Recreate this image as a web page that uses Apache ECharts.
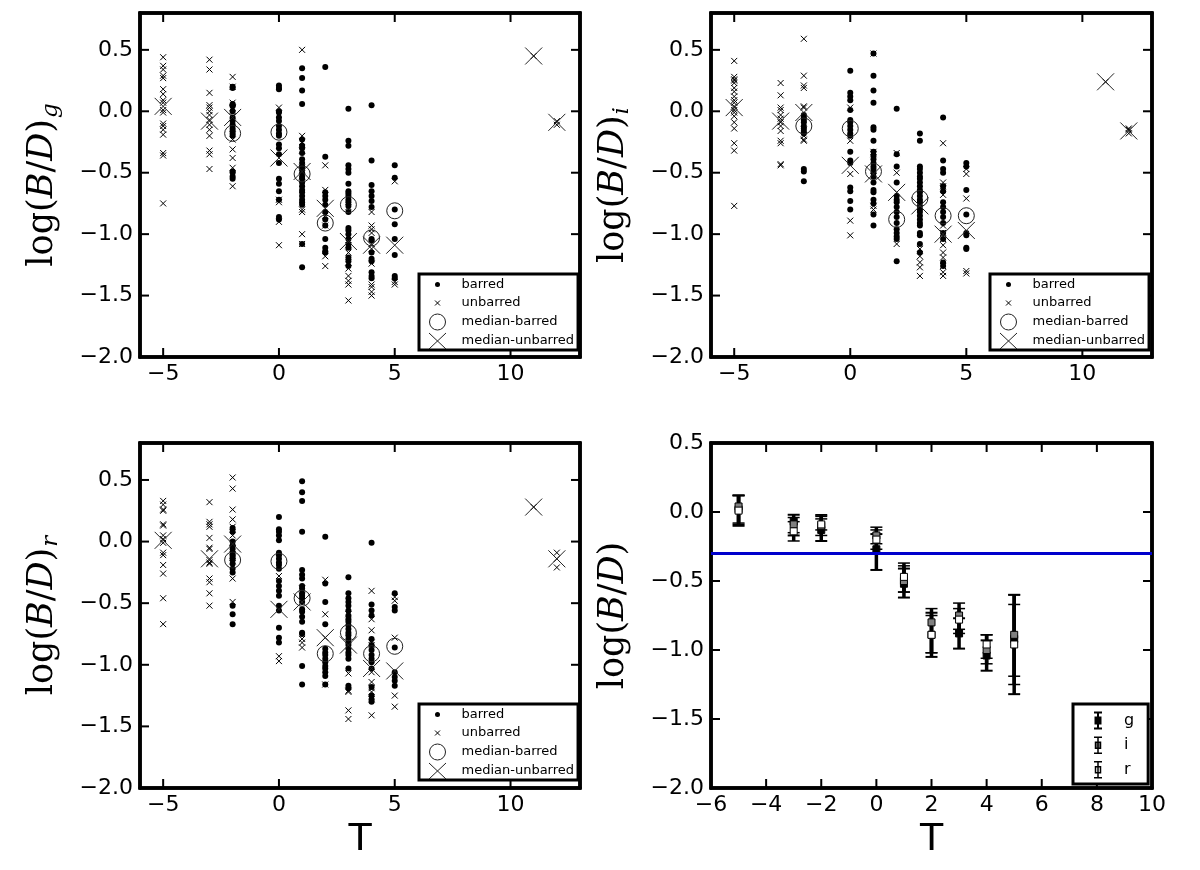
<!DOCTYPE html>
<html><head><meta charset="utf-8">
<script src="https://cdn.jsdelivr.net/npm/echarts@6/dist/echarts.min.js"></script>
<style>html,body{margin:0;padding:0;background:#fff}#c{width:1200px;height:870px}</style>
</head><body><div id="c"></div>
<script>
// ---------- DATA ----------
const T_TYPES = [-5, -3, -2, 0, 1, 2, 3, 4, 5, 11, 12];
const X_TICKS_SCATTER = [-5, 0, 5, 10];
const Y_TICKS_SCATTER = [-2.0, -1.5, -1.0, -0.5, 0.0, 0.5];
const X_TICKS_ERR = [-6, -4, -2, 0, 2, 4, 6, 8, 10];
const Y_TICKS_ERR = [-2.0, -1.5, -1.0, -0.5, 0.0, 0.5];

const gBarred = [[], [],
  [0.20,0.19,0.06,0.05,0.04,0.0,-0.05,-0.08,-0.11,-0.14,-0.16,-0.18,-0.20,-0.49,-0.50,-0.53,-0.55],
  [0.21,0.19,0.18,0.0,-0.01,-0.05,-0.08,-0.12,-0.15,-0.18,-0.20,-0.27,-0.30,-0.35,-0.42,-0.55,-0.59,-0.65,-0.72,-0.86,-0.88],
  [0.35,0.27,0.17,0.06,-0.23,-0.28,-0.30,-0.34,-0.39,-0.42,-0.45,-0.47,-0.50,-0.53,-0.55,-0.58,-0.61,-0.64,-0.66,-0.69,-0.72,-0.74,-0.76,-1.08,-1.27],
  [0.36,-0.37,-0.66,-0.69,-0.72,-0.76,-0.82,-0.88,-0.93,-1.04,-1.11,-1.14,-1.15],
  [0.02,-0.24,-0.28,-0.44,-0.47,-0.50,-0.59,-0.65,-0.67,-0.69,-0.72,-0.74,-0.77,-0.82,-0.95,-0.97,-1.00,-1.04,-1.08,-1.11,-1.19,-1.22,-1.26],
  [0.05,-0.40,-0.60,-0.65,-0.69,-0.73,-0.78,-1.04,-1.05,-1.15,-1.20,-1.22,-1.31,-1.34,-1.36],
  [-0.44,-0.54,-0.80,-0.92,-1.04,-1.17,-1.34,-1.36],
  [], []];
const gUnbarred = [
  [0.44,0.37,0.34,0.29,0.27,0.18,0.14,0.09,0.07,0.01,-0.01,-0.10,-0.12,-0.15,-0.19,-0.34,-0.36,-0.75],
  [0.42,0.34,0.15,0.05,0.03,0.0,-0.03,-0.07,-0.11,-0.15,-0.20,-0.32,-0.35,-0.47],
  [0.28,0.20,0.07,0.03,-0.04,-0.14,-0.23,-0.31,-0.38,-0.46,-0.61],
  [0.03,-0.72,-0.74,-0.90,-1.09],
  [0.50,-0.20,-0.25,-0.32,-0.46,-0.53,-0.80,-0.82,-1.00,-1.08],
  [-0.44,-0.64,-0.85,-0.93,-1.18,-1.26],
  [-0.78,-1.09,-1.15,-1.23,-1.28,-1.34,-1.38,-1.41,-1.54],
  [-0.82,-0.93,-0.96,-0.99,-1.08,-1.12,-1.24,-1.41,-1.43,-1.47,-1.50],
  [-0.57,-1.39,-1.41],
  [0.45],
  [-0.08,-0.11]];
const gMedBarred   = [null, null, -0.18, -0.17, -0.51, -0.91, -0.76, -1.03, -0.81, null, null];
const gMedUnbarred = [0.04, -0.08, -0.05, -0.38, -0.49, -0.79, -1.06, -1.09, -1.09, 0.45, -0.09];

const iBarred = [[], [],
  [-0.03,-0.05,-0.07,-0.09,-0.12,-0.14,-0.16,-0.18,-0.47,-0.49,-0.57],
  [0.33,0.15,0.12,0.09,0.01,-0.07,-0.09,-0.12,-0.15,-0.18,-0.20,-0.33,-0.40,-0.42,-0.62,-0.65,-0.73,-0.80],
  [0.47,0.29,0.17,0.07,-0.13,-0.15,-0.24,-0.33,-0.36,-0.39,-0.42,-0.45,-0.47,-0.50,-0.53,-0.58,-0.64,-0.66,-0.72,-0.75,-0.84,-0.93],
  [0.02,-0.35,-0.45,-0.58,-0.69,-0.72,-0.74,-0.78,-0.82,-0.86,-0.91,-0.96,-0.99,-1.02,-1.04,-1.22],
  [-0.18,-0.24,-0.45,-0.47,-0.50,-0.53,-0.55,-0.58,-0.61,-0.64,-0.66,-0.69,-0.72,-0.74,-0.77,-0.80,-0.82,-0.85,-0.88,-0.91,-0.93,-0.99,-1.01,-1.08,-1.15],
  [-0.05,-0.40,-0.47,-0.50,-0.61,-0.65,-0.74,-0.78,-0.82,-0.86,-0.91,-0.99,-1.04,-1.23,-1.26],
  [-0.42,-0.45,-0.64,-0.84,-0.99,-1.01,-1.11,-1.12],
  [], []];
const iUnbarred = [
  [0.41,0.28,0.26,0.25,0.23,0.19,0.16,0.12,0.09,0.07,0.04,0.01,-0.01,-0.04,-0.09,-0.14,-0.26,-0.32,-0.77],
  [0.23,0.13,0.03,0.01,-0.03,-0.06,-0.09,-0.12,-0.16,-0.24,-0.26,-0.43,-0.44],
  [0.59,0.29,0.21,0.19,0.04,0.03,-0.15,-0.20,-0.23,-0.24],
  [0.03,-0.24,-0.51,-0.89,-1.01],
  [0.47,-0.33,-0.35,-0.53,-0.77,-0.80],
  [-0.34,-0.50,-0.66,-1.08],
  [-1.12,-1.18,-1.23,-1.27,-1.34],
  [-0.26,-0.58,-0.61,-0.68,-0.93,-0.99,-1.04,-1.09,-1.15,-1.19,-1.26,-1.31,-1.34],
  [-0.47,-0.51,-0.71,-1.30,-1.32],
  [0.24],
  [-0.14,-0.15,-0.18]];
const iMedBarred   = [null, null, -0.12, -0.14, -0.49, -0.88, -0.71, -0.85, -0.85, null, null];
const iMedUnbarred = [0.03, -0.08, -0.01, -0.44, -0.51, -0.66, -0.77, -1.00, -0.97, 0.24, -0.16];

const rBarred = [[], [],
  [0.11,0.08,0.0,-0.03,-0.06,-0.09,-0.11,-0.13,-0.15,-0.18,-0.22,-0.25,-0.52,-0.59,-0.67],
  [0.20,0.10,0.08,0.05,0.01,-0.09,-0.11,-0.14,-0.17,-0.19,-0.22,-0.32,-0.36,-0.40,-0.44,-0.52,-0.56,-0.70,-0.78,-0.82],
  [0.49,0.40,0.33,0.08,-0.23,-0.27,-0.30,-0.36,-0.38,-0.42,-0.44,-0.46,-0.49,-0.55,-0.57,-0.61,-0.65,-0.74,-0.75,-1.01,-1.16],
  [0.04,-0.34,-0.49,-0.67,-0.87,-0.90,-0.92,-0.95,-0.98,-1.01,-1.03,-1.06,-1.09,-1.16],
  [-0.29,-0.42,-0.46,-0.49,-0.52,-0.56,-0.60,-0.63,-0.65,-0.68,-0.71,-0.74,-0.76,-0.79,-0.82,-0.84,-0.87,-0.90,-0.92,-0.95,-1.03,-1.17,-1.19],
  [-0.01,-0.51,-0.56,-0.60,-0.79,-0.84,-0.88,-0.92,-0.95,-0.98,-1.03,-1.18,-1.25,-1.28,-1.30],
  [-0.42,-0.53,-0.56,-0.86,-1.06,-1.10,-1.13,-1.17],
  [], []];
const rUnbarred = [
  [0.33,0.30,0.26,0.25,0.14,0.13,0.05,0.02,-0.01,-0.09,-0.11,-0.19,-0.26,-0.46,-0.67],
  [0.32,0.16,0.14,0.12,0.03,-0.05,-0.06,-0.15,-0.17,-0.18,-0.30,-0.33,-0.42,-0.52],
  [0.52,0.43,0.26,0.18,0.12,0.05,-0.01,-0.06,-0.13,-0.16,-0.30,-0.49],
  [-0.28,-0.93,-0.97],
  [-0.38,-0.44,-0.79,-0.82,-0.86],
  [-0.31,-0.59,-0.78,-1.16],
  [-0.59,-1.07,-1.21,-1.22,-1.37,-1.44],
  [-0.40,-0.63,-0.72,-0.82,-0.84,-1.06,-1.14,-1.19,-1.22,-1.28,-1.41],
  [-0.45,-0.48,-0.78,-1.25,-1.34],
  [0.28],
  [-0.09,-0.14,-0.21]];
const rMedBarred   = [null, null, -0.15, -0.16, -0.46, -0.91, -0.74, -0.91, -0.85, null, null];
const rMedUnbarred = [0.01, -0.14, -0.02, -0.55, -0.49, -0.78, -0.84, -1.03, -1.05, 0.28, -0.14];

const T_ERR = [-5, -3, -2, 0, 1, 2, 3, 4, 5];
const gMean = [0.02, -0.07, -0.13, -0.27, -0.52, -0.89, -0.88, -1.04, -0.92];
const gLo   = [-0.10, -0.17, -0.21, -0.42, -0.62, -1.05, -0.99, -1.15, -1.32];
const gHi   = [0.12, -0.02, -0.03, -0.16, -0.41, -0.73, -0.77, -0.93, -0.60];
const iMean = [0.04, -0.09, -0.10, -0.17, -0.50, -0.80, -0.75, -1.00, -0.89];
const iLo   = [-0.09, -0.15, -0.17, -0.23, -0.58, -1.02, -0.85, -1.10, -1.19];
const iHi   = [0.12, -0.04, -0.02, -0.11, -0.39, -0.70, -0.66, -0.89, -0.60];
const rMean = [0.01, -0.14, -0.09, -0.20, -0.47, -0.89, -0.78, -0.96, -0.96];
const rLo   = [-0.08, -0.21, -0.13, -0.27, -0.58, -1.02, -0.88, -1.06, -1.25];
const rHi   = [0.12, -0.07, -0.05, -0.13, -0.37, -0.75, -0.70, -0.89, -0.67];
const REF_LINE = -0.30;

// ---------- BUILD ----------
const FONT = 'DejaVu Sans';
const SERIF = 'DejaVu Serif';
const XPATH = 'path://M0,0L10,10M10,0L0,10';
const TICK_LEN = 9;
const minus = s => s.replace('-', '\u2212');
const fmtY = v => minus(Number(v).toFixed(1));
const fmtX = v => minus(String(Math.round(v)));

const GRIDS = [
  {left: 140, top: 13, width: 440, height: 344},
  {left: 711, top: 13, width: 441, height: 344},
  {left: 140, top: 443, width: 440, height: 345},
  {left: 711, top: 443, width: 441, height: 345}
];

function flatten(cols) {
  const out = [];
  cols.forEach((vals, j) => vals.forEach(v => out.push([T_TYPES[j], v])));
  return out;
}
function medPts(arr) {
  const out = [];
  arr.forEach((v, j) => { if (v !== null) out.push([T_TYPES[j], v]); });
  return out;
}
function yName(sub) {
  return '{n|log(}{i|B}{n|/}{i|D}{n|)}' + (sub ? '{s|' + sub + '}' : '');
}
const nameRich = {
  n: {fontFamily: SERIF, fontSize: 35, color: '#000', lineHeight: 42},
  i: {fontFamily: SERIF, fontSize: 35, fontStyle: 'italic', color: '#000', lineHeight: 42},
  s: {fontFamily: SERIF, fontSize: 23, fontStyle: 'italic', color: '#000', padding: [17, 0, 0, 1], lineHeight: 25}
};

const xAxes = [], yAxes = [], series = [], legends = [];
const frameLine = {show: true, onZero: false, lineStyle: {color: '#000', width: 3.5}};
const tickLine = (x1, y1, x2, y2) => ({type: 'line', shape: {x1: x1, y1: y1, x2: x2, y2: y2},
  style: {stroke: '#000', lineWidth: 2}});

function addAxes(k, xmin, xmax, xt, ymin, ymax, yt, yLabel, xLabel) {
  xAxes.push({type: 'value', gridIndex: k, position: 'bottom', min: xmin, max: xmax,
    axisLine: frameLine, splitLine: {show: false}, axisTick: {show: false},
    axisLabel: {customValues: xt, formatter: fmtX, fontFamily: FONT, fontSize: 22, color: '#000', margin: 6},
    name: xLabel || '', nameLocation: 'middle', nameGap: 33,
    nameTextStyle: {fontFamily: FONT, fontSize: 38, color: '#000'}});
  xAxes.push({type: 'value', gridIndex: k, position: 'top', min: xmin, max: xmax,
    axisLine: frameLine, splitLine: {show: false}, axisTick: {show: false}, axisLabel: {show: false}});
  yAxes.push({type: 'value', gridIndex: k, position: 'left', min: ymin, max: ymax,
    axisLine: frameLine, splitLine: {show: false}, axisTick: {show: false},
    axisLabel: {customValues: yt, formatter: fmtY, fontFamily: FONT, fontSize: 22, color: '#000', margin: 7},
    name: yLabel, nameLocation: 'middle', nameGap: 76, nameRotate: 90,
    nameTextStyle: {rich: nameRich}});
  yAxes.push({type: 'value', gridIndex: k, position: 'right', min: ymin, max: ymax,
    axisLine: frameLine, splitLine: {show: false}, axisTick: {show: false}, axisLabel: {show: false}});
  // inward tick marks on all four sides, placed through the axes' own scales
  series.push({type: 'custom', xAxisIndex: 2 * k, yAxisIndex: 2 * k, silent: true, z: 10,
    data: xt.map(v => [v, (ymin + ymax) / 2]), encode: {x: 0, y: 1},
    renderItem: (params, api) => {
      const v = api.value(0);
      const b = api.coord([v, ymin]);
      const t = api.coord([v, ymax]);
      return {type: 'group', children: [
        tickLine(b[0], b[1], b[0], b[1] - TICK_LEN),
        tickLine(t[0], t[1], t[0], t[1] + TICK_LEN)]};
    }});
  series.push({type: 'custom', xAxisIndex: 2 * k, yAxisIndex: 2 * k, silent: true, z: 10,
    data: yt.map(v => [(xmin + xmax) / 2, v]), encode: {x: 0, y: 1},
    renderItem: (params, api) => {
      const v = api.value(1);
      const l = api.coord([xmin, v]);
      const r = api.coord([xmax, v]);
      return {type: 'group', children: [
        tickLine(l[0], l[1], l[0] + TICK_LEN, l[1]),
        tickLine(r[0], r[1], r[0] - TICK_LEN, r[1])]};
    }});
}

function scatterPanel(k, barred, unbarred, medB, medU, sub, xLabel) {
  addAxes(k, -6, 13, X_TICKS_SCATTER, -2.0, 0.8, Y_TICKS_SCATTER, yName(sub), xLabel);
  const ax = {xAxisIndex: 2 * k, yAxisIndex: 2 * k, silent: true};
  series.push(Object.assign({type: 'scatter', name: 'barred', data: flatten(barred),
    symbol: 'circle', symbolSize: 6, itemStyle: {color: '#000', opacity: 1}, z: 2}, ax));
  series.push(Object.assign({type: 'scatter', name: 'unbarred', data: flatten(unbarred),
    symbol: XPATH, symbolSize: 6, itemStyle: {color: 'transparent', borderColor: '#000', borderWidth: 1, opacity: 1}, z: 2}, ax));
  series.push(Object.assign({type: 'scatter', name: 'median-barred', data: medPts(medB),
    symbol: 'circle', symbolSize: 16, itemStyle: {color: 'transparent', borderColor: '#222', borderWidth: 1, opacity: 1}, z: 3}, ax));
  series.push(Object.assign({type: 'scatter', name: 'median-unbarred', data: medPts(medU),
    symbol: XPATH, symbolSize: 17, itemStyle: {color: 'transparent', borderColor: '#222', borderWidth: 1, opacity: 1}, z: 3}, ax));
  const g = GRIDS[k];
  legends.push({
    left: g.left + 279, top: g.top + 261, orient: 'vertical', selectedMode: false,
    padding: [2, 4, 0, 6], itemGap: 1, itemWidth: 24, itemHeight: 17,
    borderColor: '#000', borderWidth: 3, backgroundColor: '#fff', z: 12,
    textStyle: {fontFamily: FONT, fontSize: 13, color: '#000', padding: [0, 0, 0, 7]},
    data: [
      {name: 'barred', icon: 'path://M0,0M24,17M9.5,8.5A2.5,2.5,0,1,1,14.5,8.5A2.5,2.5,0,1,1,9.5,8.5Z',
        itemStyle: {color: '#000', borderWidth: 0, opacity: 1}},
      {name: 'unbarred', icon: 'path://M0,0M24,17M9.5,6L14.5,11M14.5,6L9.5,11',
        itemStyle: {color: 'transparent', borderColor: '#000', borderWidth: 1, opacity: 1}},
      {name: 'median-barred', icon: 'path://M0,0M24,17M4,8.5A8,8,0,1,1,20,8.5A8,8,0,1,1,4,8.5Z',
        itemStyle: {color: 'transparent', borderColor: '#222', borderWidth: 1, opacity: 1}},
      {name: 'median-unbarred', icon: 'path://M0,0M24,17M3.5,0.5L20.5,16.5M20.5,0.5L3.5,16.5',
        itemStyle: {color: 'transparent', borderColor: '#222', borderWidth: 1, opacity: 1}}
    ]
  });
}

scatterPanel(0, gBarred, gUnbarred, gMedBarred, gMedUnbarred, 'g', '');
scatterPanel(1, iBarred, iUnbarred, iMedBarred, iMedUnbarred, 'i', '');
scatterPanel(2, rBarred, rUnbarred, rMedBarred, rMedUnbarred, 'r', 'T');

addAxes(3, -6, 10, X_TICKS_ERR, -2.0, 0.5, Y_TICKS_ERR, yName(''), 'T');
function errBand(name, mean, lo, hi, fill, capW) {
  series.push({type: 'custom', xAxisIndex: 6, yAxisIndex: 6, silent: true, z: 2,
    data: T_ERR.map((t, j) => [t, lo[j], hi[j]]),
    encode: {x: 0, y: [1, 2]},
    renderItem: (params, api) => {
      const x = api.value(0);
      const top = api.coord([x, api.value(2)]);
      const bot = api.coord([x, api.value(1)]);
      const hw = 6;
      return {type: 'group', children: [
        {type: 'line', shape: {x1: top[0], y1: top[1], x2: bot[0], y2: bot[1]}, style: {stroke: '#000', lineWidth: 3.5}},
        {type: 'line', shape: {x1: top[0] - hw, y1: top[1], x2: top[0] + hw, y2: top[1]}, style: {stroke: '#000', lineWidth: capW}},
        {type: 'line', shape: {x1: bot[0] - hw, y1: bot[1], x2: bot[0] + hw, y2: bot[1]}, style: {stroke: '#000', lineWidth: capW}}
      ]};
    }});
  series.push({type: 'scatter', name: name, xAxisIndex: 6, yAxisIndex: 6, silent: true, z: 2,
    data: T_ERR.map((t, j) => [t, mean[j]]),
    symbol: 'rect', symbolSize: 7, itemStyle: {color: fill, borderColor: '#000', borderWidth: 1, opacity: 1}});
}
errBand('g', gMean, gLo, gHi, '#000', 2);
errBand('i', iMean, iLo, iHi, '#808080', 1.5);
errBand('r', rMean, rLo, rHi, '#fff', 1.5);
series.push({type: 'scatter', xAxisIndex: 6, yAxisIndex: 6, data: [], silent: true, z: 5,
  markLine: {silent: true, symbol: ['none', 'none'], label: {show: false}, animation: false,
    lineStyle: {color: '#0000cc', width: 3, type: 'solid', opacity: 1},
    data: [{yAxis: REF_LINE}]}});
legends.push({
  left: 1073, top: 704, orient: 'vertical', selectedMode: false,
  padding: [7, 14, 5, 16], itemGap: 6, itemWidth: 16, itemHeight: 17,
  borderColor: '#000', borderWidth: 3, backgroundColor: '#fff', z: 12,
  textStyle: {fontFamily: FONT, fontSize: 16, color: '#000', padding: [0, 0, 0, 13]},
  data: [
    {name: 'g', icon: 'path://M0,0M16,17M8,0.5L8,16.5M4,0.5L12,0.5M4,16.5L12,16.5M5.5,5.5L10.5,5.5L10.5,11.5L5.5,11.5Z',
      itemStyle: {color: '#000', borderColor: '#000', borderWidth: 2, opacity: 1}},
    {name: 'i', icon: 'path://M0,0M16,17M8,0.5L8,16.5M4,0.5L12,0.5M4,16.5L12,16.5M5.5,5.5L10.5,5.5L10.5,11.5L5.5,11.5Z',
      itemStyle: {color: '#808080', borderColor: '#000', borderWidth: 1.5, opacity: 1}},
    {name: 'r', icon: 'path://M0,0M16,17M8,0.5L8,16.5M4,0.5L12,0.5M4,16.5L12,16.5M5.5,5.5L10.5,5.5L10.5,11.5L5.5,11.5Z',
      itemStyle: {color: '#fff', borderColor: '#000', borderWidth: 1.5, opacity: 1}}
  ]
});

const option = {
  animation: false,
  backgroundColor: '#fff',
  textStyle: {fontFamily: FONT},
  grid: GRIDS.map(g => Object.assign({show: true, borderColor: '#000', borderWidth: 3.5, backgroundColor: 'transparent', containLabel: false}, g)),
  xAxis: xAxes,
  yAxis: yAxes,
  legend: legends,
  series: series
};
const chart = echarts.init(document.getElementById('c'), null, {renderer: 'canvas'});
chart.setOption(option);
</script>
</body></html>
